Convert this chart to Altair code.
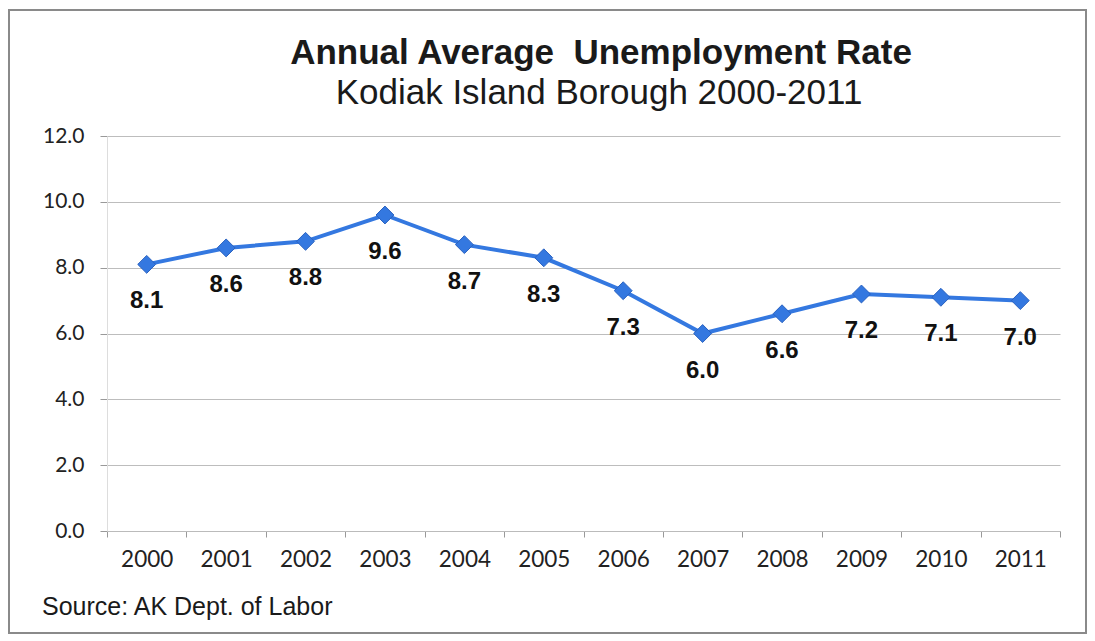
import altair as alt
import pandas as pd

years = ["2000", "2001", "2002", "2003", "2004", "2005", "2006", "2007", "2008", "2009", "2010", "2011"]
rates = [8.1, 8.6, 8.8, 9.6, 8.7, 8.3, 7.3, 6.0, 6.6, 7.2, 7.1, 7.0]
title_text = "Annual Average\u00a0\u00a0Unemployment Rate"
subtitle_text = "Kodiak Island Borough 2000-2011"
source_text = "Source: AK Dept. of Labor"

df = pd.DataFrame({"year": years, "rate": rates})

W, H = 953, 395
BLUE = "#3478E0"

x_enc = alt.X(
    "year:N",
    sort=years,
    title=None,
    scale=alt.Scale(paddingInner=0, paddingOuter=0),
    axis=alt.Axis(
        labelAngle=0,
        labelFont="Lato",
        labelFontSize=22.5,
        labelColor="#222222",
        labelPadding=11,
        tickBand="extent",
        tickSize=6,
        tickColor="#999999",
        domainColor="#BBBBBB",
        grid=False,
    ),
)
y_enc = alt.Y(
    "rate:Q",
    title=None,
    scale=alt.Scale(domain=[0, 12], nice=False, zero=True),
    axis=alt.Axis(
        values=[0, 2, 4, 6, 8, 10, 12],
        format=".1f",
        labelFont="Lato",
        labelFontSize=21,
        labelColor="#222222",
        labelPadding=16,
        tickSize=7,
        tickColor="#999999",
        domainColor="#DDDDDD",
        gridColor="#BDBDBD",
        gridWidth=1,
    ),
)

base = alt.Chart(df)

line = base.mark_line(color=BLUE, strokeWidth=4).encode(x=x_enc, y=y_enc)
points = base.mark_point(
    shape="diamond", filled=True, size=320, color=BLUE, stroke="#2A62C0", strokeWidth=1, opacity=1
).encode(x=x_enc, y=y_enc)
labels = base.mark_text(
    font="Liberation Sans", fontSize=24, fontWeight="bold", color="#111111", dy=37
).encode(x=x_enc, y=y_enc, text=alt.Text("rate:Q", format=".1f"))

title_df = pd.DataFrame({"t": [title_text]})
sub_df = pd.DataFrame({"t": [subtitle_text]})
src_df = pd.DataFrame({"t": [source_text]})

title = alt.Chart(title_df).mark_text(
    font="Liberation Sans", fontSize=35, fontWeight="bold", color="#1a1a1a", align="center", baseline="alphabetic"
).encode(x=alt.value(494), y=alt.value(-72), text="t:N")
subtitle = alt.Chart(sub_df).mark_text(
    font="Liberation Sans", fontSize=35, color="#1a1a1a", align="center", baseline="alphabetic"
).encode(x=alt.value(492), y=alt.value(-32), text="t:N")
source = alt.Chart(src_df).mark_text(
    font="Liberation Sans", fontSize=25, color="#1a1a1a", align="left", baseline="alphabetic"
).encode(x=alt.value(-65), y=alt.value(479), text="t:N")
border = alt.Chart(title_df).mark_rect(
    fill="transparent", stroke="#8a8a8a", strokeWidth=2
).encode(x=alt.value(-98), x2=alt.value(979), y=alt.value(-126), y2=alt.value(497))

chart = alt.layer(border, line, points, labels, title, subtitle, source).properties(
    width=W,
    height=H,
    padding={"left": 99, "top": 128, "right": 27, "bottom": 104},
    autosize=alt.AutoSizeParams(type="none"),
    background="white",
).configure_view(stroke=None)

chart.save("out.html", embed_options={"renderer": "svg", "actions": False})
